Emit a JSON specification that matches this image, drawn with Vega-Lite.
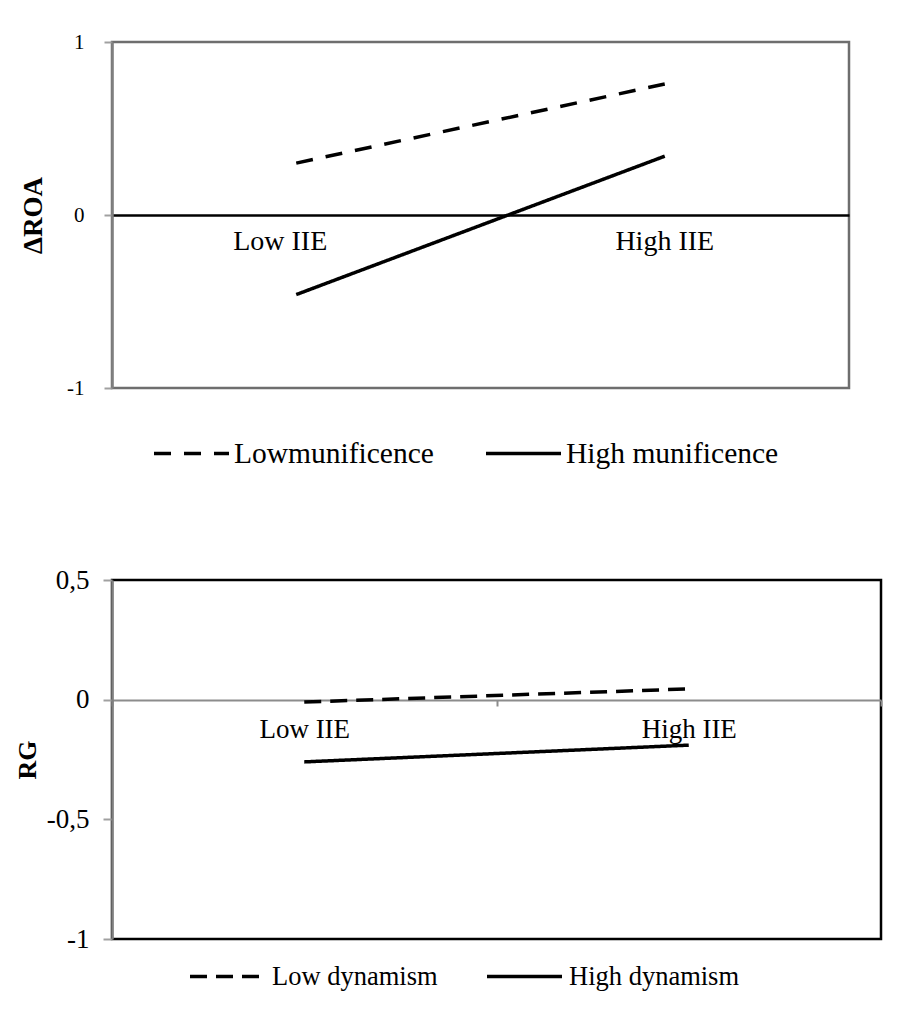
{
  "$schema": "https://vega.github.io/schema/vega-lite/v6.json",
  "background": "white",
  "padding": {"left": 13, "top": 29, "right": 0, "bottom": 0},
  "bounds": "flush",
  "spacing": 192,
  "config": {
    "font": "Liberation Serif, Times New Roman, serif",
    "axis": {"labelFont": "Liberation Serif, Times New Roman, serif", "titleFont": "Liberation Serif, Times New Roman, serif", "labelColor": "black", "titleColor": "black"},
    "legend": {"labelFont": "Liberation Serif, Times New Roman, serif", "labelColor": "black"}
  },
  "resolve": {
    "scale": {"strokeDash": "independent", "x": "independent", "y": "independent"},
    "legend": {"strokeDash": "independent"}
  },
  "vconcat": [
    {
      "width": 737,
      "height": 346,
      "view": {"stroke": "#6e6e6e", "strokeWidth": 2.5},
      "data": {
        "values": [
          {"iie": "Low IIE", "group": "Lowmunificence", "value": 0.3},
          {"iie": "High IIE", "group": "Lowmunificence", "value": 0.757},
          {"iie": "Low IIE", "group": "High munificence", "value": -0.46},
          {"iie": "High IIE", "group": "High munificence", "value": 0.34}
        ]
      },
      "mark": {"type": "line", "strokeWidth": 3.5, "color": "black"},
      "encoding": {
        "x": {
          "field": "iie", "type": "nominal", "sort": ["Low IIE", "High IIE"],
          "scale": {"type": "band", "paddingInner": 0, "paddingOuter": 0},
          "axis": {"title": null, "labelAngle": 0, "offset": -173, "domainColor": "black", "domainWidth": 2.5, "ticks": false, "labelFontSize": 28, "labelPadding": 12,
            "labelOffset": {"condition": {"test": "datum.value === 'Low IIE'", "value": -16}, "value": 0}}
        },
        "y": {
          "field": "value", "type": "quantitative",
          "scale": {"domain": [-1, 1], "nice": false},
          "axis": {"values": [-1, 0, 1], "title": "ΔROA", "titleFontSize": 27, "titleFontWeight": "bold", "titlePadding": 19, "grid": false, "domainColor": "#808080", "domainWidth": 2.5, "tickColor": "#a0a0a0", "tickWidth": 2, "tickSize": 8, "labelFontSize": 21, "labelPadding": 20, "labelExpr": "toString(datum.value)"}
        },
        "strokeDash": {
          "field": "group", "type": "nominal",
          "scale": {"domain": ["Lowmunificence", "High munificence"], "range": [[17, 13], [1, 0]]},
          "legend": {"orient": "none", "legendX": 40, "legendY": 372, "direction": "horizontal", "title": null, "symbolType": "stroke", "symbolSize": 5625, "symbolStrokeWidth": 3.5, "symbolStrokeColor": "black", "labelFontSize": 29.5, "labelOffset": 3, "columnPadding": 45, "padding": 0, "labelLimit": 0}
        }
      }
    },
    {
      "width": 769,
      "height": 359,
      "view": {"stroke": "black", "strokeWidth": 2.5},
      "data": {
        "values": [
          {"iie": "Low IIE", "group": "Low dynamism", "value": -0.01},
          {"iie": "High IIE", "group": "Low dynamism", "value": 0.045},
          {"iie": "Low IIE", "group": "High dynamism", "value": -0.26},
          {"iie": "High IIE", "group": "High dynamism", "value": -0.19}
        ]
      },
      "mark": {"type": "line", "strokeWidth": 3.5, "color": "black"},
      "encoding": {
        "x": {
          "field": "iie", "type": "nominal", "sort": ["Low IIE", "High IIE"],
          "scale": {"type": "band", "paddingInner": 0, "paddingOuter": 0},
          "axis": {"title": null, "labelAngle": 0, "offset": -239, "domainColor": "#8c8c8c", "domainWidth": 2, "ticks": true, "tickBand": "extent", "tickColor": "#8c8c8c", "tickWidth": 2, "tickSize": 6, "labelFontSize": 27, "labelPadding": 10}
        },
        "y": {
          "field": "value", "type": "quantitative",
          "scale": {"domain": [-1, 0.5], "nice": false},
          "axis": {"values": [-1, -0.5, 0, 0.5], "title": "RG", "titleFontSize": 26, "titleFontWeight": "bold", "titlePadding": 6, "grid": false, "domainColor": "#808080", "domainWidth": 2.5, "tickColor": "#a0a0a0", "tickWidth": 2, "tickSize": 9, "labelFontSize": 27, "labelPadding": 14, "labelExpr": "datum.value == 0 ? '0' : replace(toString(datum.value), '.', ',')"}
        },
        "strokeDash": {
          "field": "group", "type": "nominal",
          "scale": {"domain": ["Low dynamism", "High dynamism"], "range": [[17, 9], [1, 0]]},
          "legend": {"orient": "none", "legendX": 76, "legendY": 357, "direction": "horizontal", "title": null, "symbolType": "stroke", "symbolSize": 5625, "symbolStrokeWidth": 3.5, "symbolStrokeColor": "black", "labelFontSize": 26.5, "labelOffset": 5, "columnPadding": 42, "padding": 0, "labelLimit": 0}
        }
      }
    }
  ]
}
